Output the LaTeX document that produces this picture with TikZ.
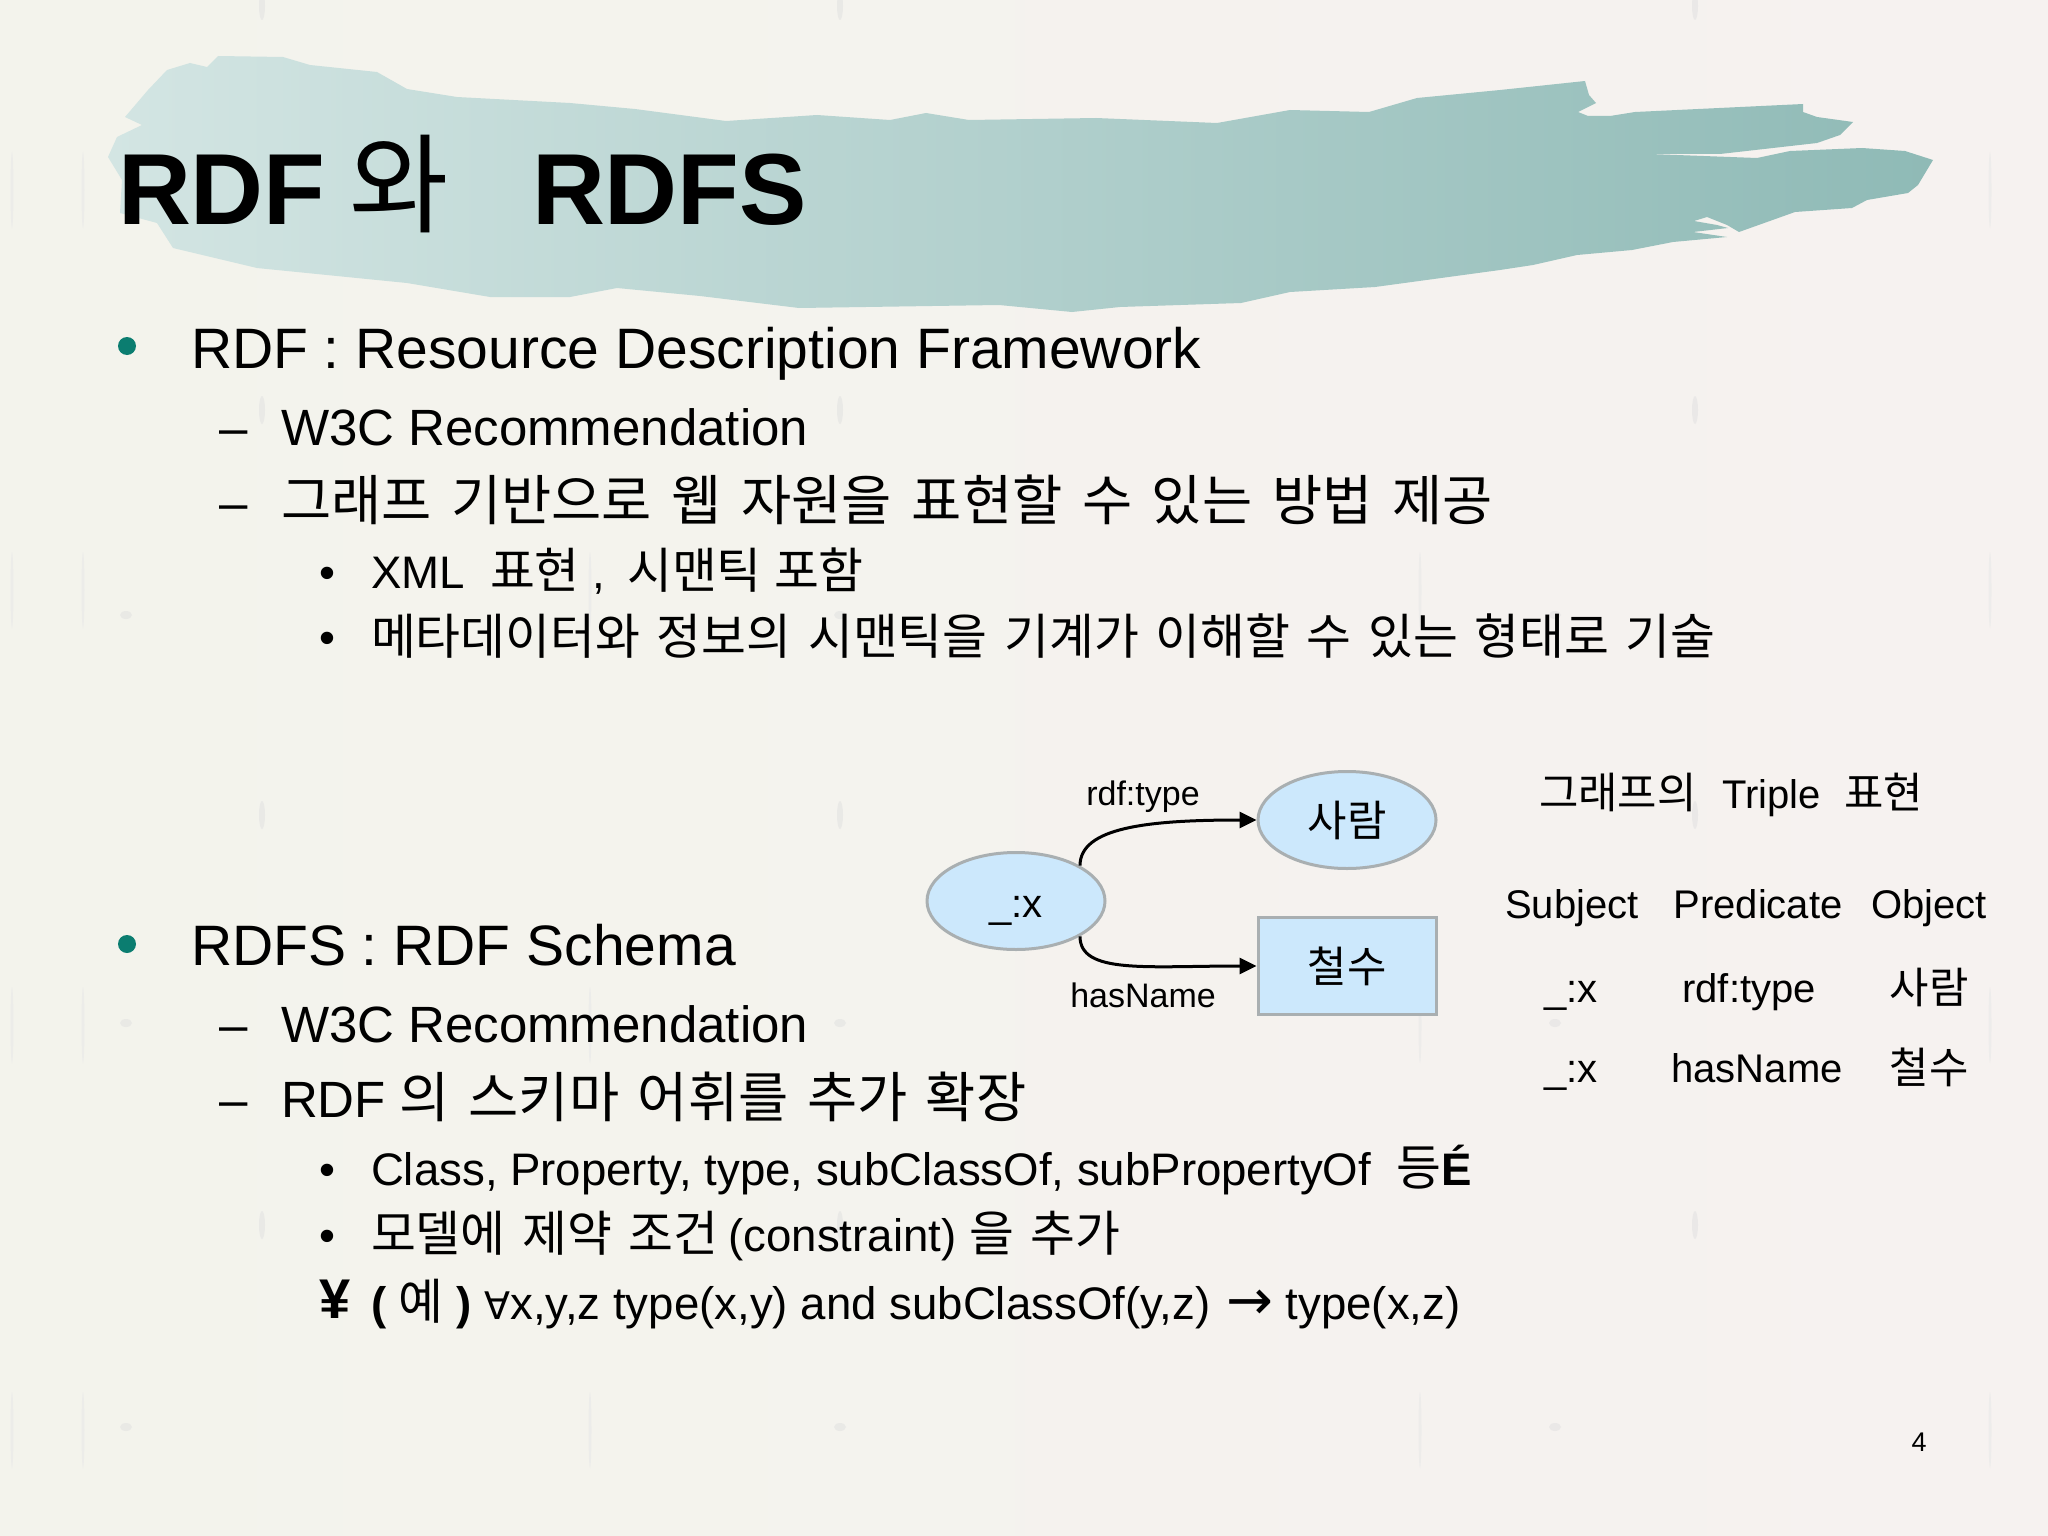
\documentclass[tikz,border=0pt]{standalone}
\usepackage{fontspec}
\setmainfont{Liberation Sans}
\newfontfamily\krfont[Scale=1.07]{Noto Sans CJK KR}
\newfontfamily\symfont{DejaVu Sans}
\usetikzlibrary{arrows.meta,
	positioning,
	shapes.geometric}
\newcommand{\kr}[2][0.34em]{{\krfont\spaceskip=#1 #2}}
\definecolor{paperleft}{HTML}{F3F3EC}
\definecolor{paperright}{HTML}{F6F2F0}
\definecolor{brushleft}{HTML}{D3E5E3}
\definecolor{brushright}{HTML}{8FBAB6}
\definecolor{bullet}{HTML}{0B7D70}
\definecolor{nodefill}{HTML}{CCE8FC}
\definecolor{nodeline}{HTML}{A9AFB1}
\tikzset{
	txt/.style={anchor=base west,inner sep=0pt,outer sep=0pt},
	titletxt/.style={txt,font=\fontsize{101}{110}\selectfont\bfseries},
	lvlone/.style={txt,font=\fontsize{57}{60}\selectfont},
	lvltwo/.style={txt,font=\fontsize{51}{54}\selectfont},
	lvlthree/.style={txt,font=\fontsize{45.6}{50}\selectfont},
	dotmark/.style={circle,fill=bullet,minimum size=18pt,inner sep=0pt},
	small/.style={anchor=base,inner sep=0pt,outer sep=0pt,font=\fontsize{34}{40}\selectfont},
	cell/.style={small,font=\fontsize{40}{44}\selectfont},
	res/.style={draw=nodeline,fill=nodefill,line width=3pt,inner sep=0pt,minimum width=178pt,minimum height=97pt,text height=36pt,text depth=4pt,font=\fontsize{40}{46}\selectfont},
	arc/.style={line width=3pt,-{Triangle[length=17pt,width=16pt]}},
}
\begin{document}
\begin{tikzpicture}[x=1pt,y=-1pt]
\useasboundingbox (0,0) rectangle (2048,1536);
\shade[left color=paperleft,right color=paperright] (0,0) rectangle (2048,1536);
% paper marks
\foreach \x in {262,840,1695}{
	\foreach \y in {6,410,815,1225}{
		\fill[black!12,opacity=0.5] (\x,\y) ellipse (3pt and 14pt);
	}
}
\foreach \x in {126,840,1555}{
	\foreach \y in {210,615,1023,1427}{
		\fill[black!12,opacity=0.5] (\x,\y) ellipse (6pt and 4pt);
	}
}
\foreach \x in {12,83,590,1420,1990}{
	\foreach \y in {190,590,1025,1430}{
		\fill[black!9,opacity=0.6] (\x,\y) ellipse (1.5pt and 38pt);
	}
}
% brush
\shade[left color=brushleft,right color=brushright] (108,157)--(117,137)--(142,125)--(125,117)--(148,90)--(167,70)--(190,63)--(207,67)--(218,56)--(283,57)--(310,65)--(377,72)--(407,89)--(457,97)--(570,103)--(635,109)--(726,121)--(817,115)--(890,120)--(926,113)--(969,120)--(1096,118)--(1217,123)--(1290,110)--(1369,112)--(1417,98)--(1500,90)--(1585,81)--(1589,95)--(1596,103)--(1578,112)--(1588,116)--(1610,116)--(1635,112)--(1803,104)--(1803,112)--(1817,117)--(1853,122)--(1840,135)--(1817,143)--(1720,154)--(1650,154)--(1757,158)--(1790,151)--(1862,148)--(1905,151)--(1933,160)--(1918,185)--(1908,193)--(1867,200)--(1852,208)--(1795,212)--(1739,232)--(1727,225)--(1707,217)--(1694,221)--(1717,225)--(1728,228)--(1693,232)--(1727,237)--(1673,242)--(1632,250)--(1577,255)--(1533,265)--(1500,270)--(1375,287)--(1290,292)--(1241,303)--(1120,307)--(1072,312)--(999,305)--(799,308)--(700,296)--(617,288)--(570,297)--(490,297)--(407,283)--(257,268)--(173,248)--(157,223)--(120,213)--(122,180)--cycle;
\node[titletxt] (title) at (118,224) {RDF\hspace{24pt}\kr{\mdseries 와}};
\node[titletxt] (titleb) at (532,224) {RDFS};
% first block
\node[dotmark] (bulleta) at (127,346) {};
\node[lvlone] (rdf) at (191,368) {RDF : Resource Description Framework};
\node[lvltwo] (dasha) at (219,445) {–};
\node[lvltwo] (rdfa) at (281,445) {W3C Recommendation};
\node[lvltwo] (dashb) at (219,520) {–};
\node[lvltwo] (rdfb) at (281,520) {\kr[0.36em]{그래프 기반으로 웹 자원을 표현할 수 있는 방법 제공}};
\node[lvlthree] (dota) at (319,588) {•};
\node[lvlthree] (rdfc) at (371,588) {XML \ \kr{표현} ,\hspace{22pt}\kr[0.25em]{시맨틱 포함}};
\node[lvlthree] (dotb) at (319,653) {•};
\node[lvlthree] (rdfd) at (371,654) {\kr{메타데이터와 정보의 시맨틱을 기계가 이해할 수 있는 형태로 기술}};
% second block
\node[dotmark] (bulletb) at (127,944) {};
\node[lvlone] (rdfs) at (191,965) {RDFS : RDF Schema};
\node[lvltwo] (dashc) at (219,1042) {–};
\node[lvltwo] (rdfsa) at (281,1042) {W3C Recommendation};
\node[lvltwo] (dashd) at (219,1117) {–};
\node[lvltwo] (rdfsb) at (281,1117) {RDF \kr{의 스키마 어휘를 추가 확장}};
\node[lvlthree] (dotc) at (319,1185) {•};
\node[lvlthree] (rdfsc) at (371,1185) {Class, Property, type, subClassOf, subPropertyOf \ \kr{등}\textbf{É}};
\node[lvlthree] (dotd) at (319,1251) {•};
\node[lvlthree] (rdfsd) at (371,1251) {\kr{모델에 제약 조건}\hspace{10pt}(constraint) \kr{을 추가}};
\node[lvlthree,font=\fontsize{56}{58}\selectfont] (yen) at (319,1318) {\textbf{¥}};
\node[lvlthree] (rdfse) at (371,1319) {\textbf{(} \kr{예} \textbf{)} {\symfont\fontsize{38}{40}\selectfont ∀}x,y,z type(x,y) and subClassOf(y,z)\hspace{3pt} {\symfont\fontsize{56}{50}\selectfont →} type(x,z)};
% graph
\node[res,ellipse] (x) at (1016,901) {\_:x};
\node[res,ellipse] (person) at (1347,820) {\kr{사람}};
\node[res,rectangle] (name) at (1347,966) {\kr{철수}};
\draw[arc] (x.north east) .. controls +(0,-38) and +(-110,0) .. (person.west);
\draw[arc] (x.south east) .. controls +(0,38) and +(-110,0) .. (name.west);
\node[small] (lbltype) at (1143,805) {rdf:type};
\node[small] (lblname) at (1143,1007) {hasName};
% triples
\node[txt,font=\fontsize{40}{44}\selectfont] (tripletitle) at (1539,808) {\kr{그래프의}\hspace{26pt}Triple\hspace{23pt}\kr{표현}};
\node[cell] (subj) at (1572,918) {Subject};
\node[cell] (pred) at (1758,918) {Predicate};
\node[cell] (obj) at (1929,918) {Object};
\node[cell] (sa) at (1571,1002) {\_:x};
\node[cell] (pa) at (1749,1002) {rdf:type};
\node[cell] (oa) at (1929,1003) {\kr{사람}};
\node[cell] (sb) at (1571,1082) {\_:x};
\node[cell] (pb) at (1757,1082) {hasName};
\node[cell] (ob) at (1929,1083) {\kr{철수}};
\node[small,font=\fontsize{27}{30}\selectfont] (page) at (1919,1451) {4};
\end{tikzpicture}
\end{document}
